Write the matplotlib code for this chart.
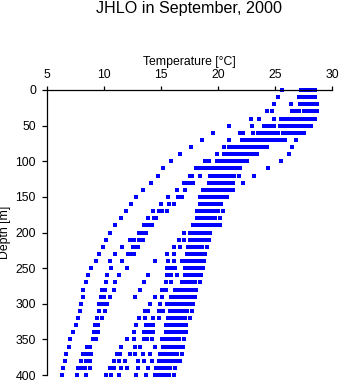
import matplotlib.pyplot as plt
import numpy as np

#####################################################
# DATA
#####################################################

depths = list(range(0, 410, 10))

temps = [
    [25.6, 27.3, 27.6, 27.9, 28.2, 28.5],
    [25.3, 27.1, 27.4, 27.7, 28.0, 28.3, 28.5],
    [24.9, 26.4, 27.2, 27.5, 27.8, 28.1, 28.4, 28.7],
    [24.3, 24.7, 26.5, 26.8, 27.1, 27.5, 27.8, 28.1, 28.4, 28.7],
    [22.9, 23.6, 24.9, 25.5, 25.9, 26.2, 26.5, 26.8, 27.1, 27.4, 27.7, 28.0, 28.3, 28.5],
    [21.0, 23.0, 24.0, 24.3, 24.6, 24.9, 25.4, 25.7, 26.0, 26.3, 26.5, 26.8, 27.1, 27.4, 27.7, 28.0, 28.2],
    [19.6, 21.9, 22.2, 23.1, 23.5, 23.8, 24.1, 24.4, 24.7, 25.0, 25.3, 25.7, 26.0, 26.3, 26.6, 26.9, 27.2, 27.5],
    [18.6, 21.0, 22.1, 22.4, 22.7, 23.0, 23.3, 23.6, 23.9, 24.2, 24.5, 24.8, 25.1, 25.4, 25.7, 25.9, 26.8],
    [17.6, 20.5, 21.0, 21.3, 21.6, 21.9, 22.2, 22.5, 22.8, 23.1, 23.4, 23.7, 24.0, 24.3, 26.5],
    [16.7, 19.9, 20.5, 20.8, 21.1, 21.4, 21.7, 22.0, 22.3, 22.6, 22.9, 23.2, 23.4, 26.2],
    [15.9, 18.9, 19.2, 19.9, 20.2, 20.5, 20.8, 21.1, 21.4, 21.7, 22.0, 22.3, 22.5, 25.5],
    [15.2, 18.1, 18.4, 18.7, 19.0, 19.3, 19.6, 19.9, 20.2, 20.5, 20.8, 21.1, 21.4, 21.7, 21.9, 24.4],
    [14.7, 17.5, 17.7, 18.4, 19.3, 19.6, 19.9, 20.2, 20.5, 20.8, 21.1, 21.4, 21.8, 23.2],
    [14.1, 17.0, 17.3, 17.5, 17.8, 19.2, 19.5, 19.8, 20.1, 20.4, 20.7, 21.0, 21.3, 22.2],
    [13.4, 16.4, 17.1, 18.7, 19.0, 19.3, 19.6, 19.9, 20.2, 20.5, 20.8, 21.05, 21.3],
    [12.8, 15.6, 16.5, 16.8, 18.4, 18.7, 19.0, 19.3, 19.6, 19.9, 20.2, 20.5, 20.8],
    [12.4, 15.0, 15.7, 16.1, 18.4, 18.7, 19.0, 19.3, 19.6, 19.9, 20.3],
    [11.9, 14.3, 14.8, 15.1, 15.5, 18.2, 18.5, 18.8, 19.1, 19.4, 19.7, 20.0, 20.4],
    [11.5, 13.9, 14.4, 14.6, 18.2, 18.5, 18.8, 19.1, 19.4, 19.7, 20.2],
    [11.0, 13.5, 13.7, 14.0, 14.2, 17.8, 18.1, 18.4, 18.7, 19.0, 19.3, 19.6, 19.9, 20.2],
    [10.5, 13.1, 13.4, 13.7, 17.0, 17.5, 17.8, 18.1, 18.4, 18.7, 19.0, 19.3],
    [10.2, 12.3, 12.6, 13.1, 13.4, 16.6, 17.0, 17.5, 17.8, 18.1, 18.4, 18.7, 19.0, 19.2],
    [9.9, 11.6, 12.5, 12.8, 13.0, 16.1, 16.7, 17.4, 17.7, 18.0, 18.3, 18.6, 19.0],
    [9.6, 11.0, 12.1, 12.4, 12.6, 15.5, 16.1, 17.3, 17.6, 17.9, 18.2, 18.5, 18.9],
    [9.3, 10.5, 11.6, 14.5, 15.6, 16.1, 16.8, 17.1, 17.4, 17.7, 18.0, 18.3, 18.6, 18.8],
    [8.9, 10.6, 12.0, 15.5, 15.9, 16.2, 17.1, 17.4, 17.7, 18.0, 18.3, 18.7],
    [8.6, 10.3, 11.3, 13.9, 15.5, 15.9, 16.4, 17.1, 17.4, 17.7, 18.0, 18.3, 18.5],
    [8.4, 10.2, 11.0, 13.5, 15.4, 15.9, 16.8, 17.1, 17.4, 17.7, 18.0, 18.4],
    [8.2, 9.8, 10.1, 10.9, 13.2, 15.1, 15.4, 16.2, 16.5, 16.8, 17.1, 17.4, 17.7, 18.1],
    [8.2, 9.7, 10.0, 10.5, 12.7, 14.5, 15.1, 15.9, 16.2, 16.5, 16.8, 17.1, 17.4, 17.7, 18.0],
    [8.0, 9.6, 9.9, 10.3, 14.0, 14.9, 15.5, 15.8, 16.1, 16.4, 16.7, 17.0, 17.3, 17.6, 17.8],
    [7.9, 9.6, 10.1, 13.6, 13.9, 14.8, 15.2, 15.8, 16.1, 16.4, 16.7, 17.0, 17.3, 17.7],
    [7.7, 9.4, 9.8, 13.1, 13.6, 14.3, 14.8, 15.6, 15.9, 16.2, 16.5, 16.8, 17.1, 17.5],
    [7.5, 9.2, 9.5, 12.8, 13.7, 14.0, 14.3, 15.4, 15.7, 16.0, 16.3, 16.6, 16.9, 17.2],
    [7.3, 9.1, 9.3, 9.5, 12.6, 13.5, 13.8, 14.1, 14.3, 15.4, 15.7, 16.0, 16.3, 16.6, 16.9, 17.2],
    [7.0, 9.0, 9.3, 12.0, 12.6, 13.5, 13.8, 14.2, 15.1, 15.4, 15.7, 16.0, 16.3, 16.6, 17.0],
    [6.9, 8.5, 8.8, 11.5, 12.7, 13.2, 14.5, 15.2, 15.5, 15.8, 16.1, 16.4, 16.7, 16.9],
    [6.7, 8.2, 8.5, 8.9, 11.1, 11.4, 12.3, 12.7, 13.4, 14.0, 14.9, 15.2, 15.5, 15.8, 16.1, 16.4, 16.8],
    [6.6, 8.0, 8.4, 8.8, 10.9, 11.3, 11.8, 13.0, 13.5, 14.2, 14.8, 15.1, 15.4, 15.7, 16.0, 16.3, 16.7],
    [6.4, 7.7, 8.0, 8.3, 8.8, 10.5, 10.9, 11.5, 12.0, 13.0, 13.9, 14.6, 14.9, 15.2, 15.5, 15.8, 16.2],
    [6.3, 7.6, 8.4, 10.2, 10.6, 11.3, 12.8, 13.7, 14.5, 14.8, 15.1, 15.4, 15.7, 16.1],
]

xticks = [5, 10, 15, 20, 25, 30]
yticks = [0, 50, 100, 150, 200, 250, 300, 350, 400]

#####################################################
# PLOT
#####################################################

plt.rcParams["font.family"] = ["Liberation Sans", "DejaVu Sans"]

fig = plt.figure(figsize=(3.41, 3.84), dpi=100)
ax = fig.add_axes([47 / 341, 1 - 375 / 384, 285 / 341, 285 / 384])

x = np.concatenate([np.array(t) for t in temps])
y = np.concatenate([np.full(len(t), d) for t, d in zip(temps, depths)])
ax.scatter(x, y, s=5, marker="s", color="#0000ff", linewidths=0, clip_on=False)

ax.set_xlim(5, 30)
ax.set_ylim(400, 0)
ax.set_xticks(xticks)
ax.set_yticks(yticks)

ax.xaxis.set_ticks_position("top")
ax.xaxis.set_label_position("top")
ax.tick_params(axis="x", direction="out", length=3, width=0.9, pad=3.5, labelsize=8.8)
ax.tick_params(axis="y", direction="out", length=3.5, width=0.9, pad=4.5, labelsize=8.8)

ax.spines["bottom"].set_visible(False)
ax.spines["right"].set_visible(False)
ax.spines["top"].set_linewidth(0.9)
ax.spines["left"].set_linewidth(0.9)

ax.set_xlabel("Temperature [°C]", fontsize=8.8, labelpad=3)
ax.set_ylabel("Depth [m]", fontsize=8.8)
ax.yaxis.set_label_coords(-0.125, 0.5)

fig.text(189 / 341, 1 - 9 / 384, "JHLO in September, 2000", ha="center", va="center", fontsize=11.6)

fig.savefig("out.png", dpi=100)
plt.close()
